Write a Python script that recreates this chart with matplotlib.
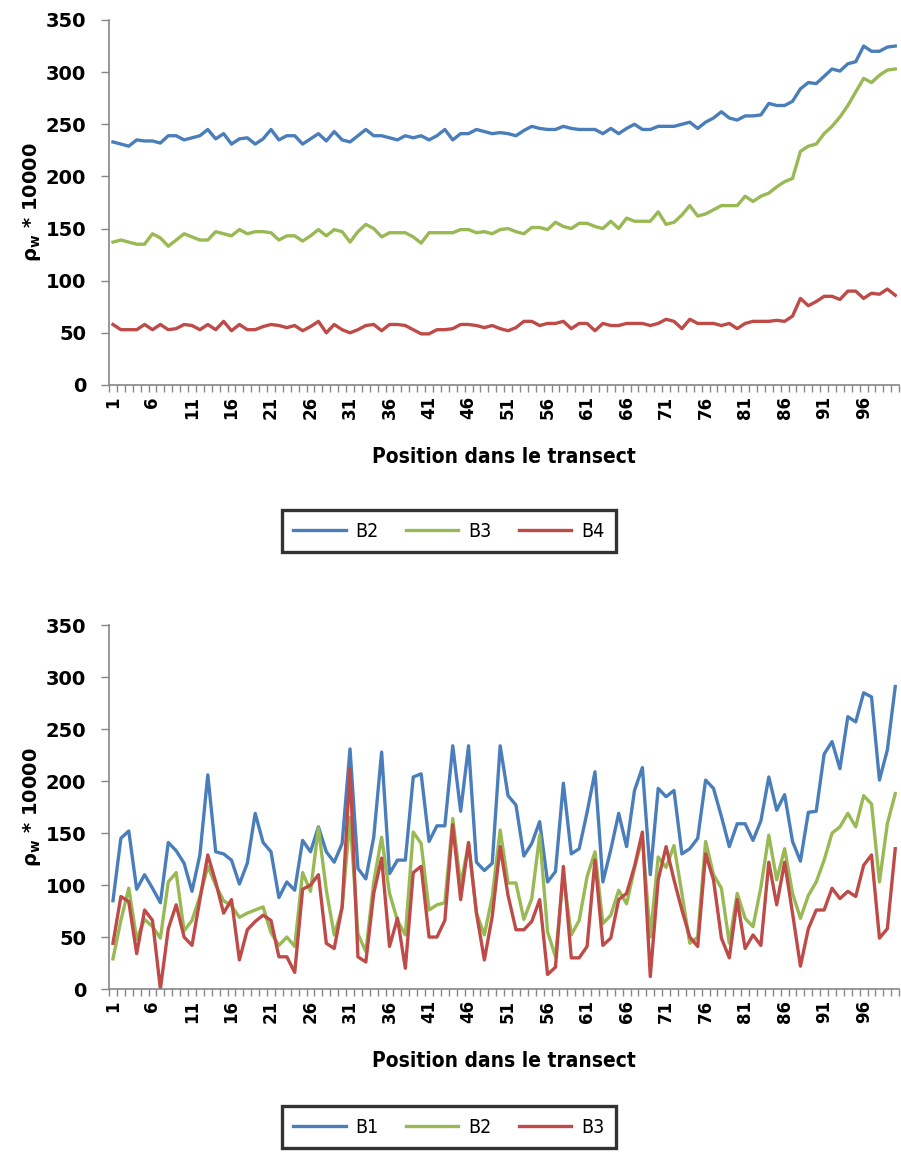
import matplotlib.pyplot as plt
import numpy as np

plt.rcParams['font.family'] = ['DejaVu Sans']
plt.rcParams['mathtext.default'] = 'bf'

positions = np.arange(1, 101)

# graphique du haut
haut_b2 = [233, 231, 229, 235, 234, 234, 232, 239, 239, 235,
           237, 239, 245, 236, 241, 231, 236, 237, 231, 236,
           245, 235, 239, 239, 231, 236, 241, 234, 243, 235,
           233, 239, 245, 239, 239, 237, 235, 239, 237, 239,
           235, 239, 245, 235, 241, 241, 245, 243, 241, 242,
           241, 239, 244, 248, 246, 245, 245, 248, 246, 245,
           245, 245, 241, 246, 241, 246, 250, 245, 245, 248,
           248, 248, 250, 252, 246, 252, 256, 262, 256, 254,
           258, 258, 259, 270, 268, 268, 272, 284, 290, 289,
           296, 303, 301, 308, 310, 325, 320, 320, 324, 325]
haut_b3 = [137, 139, 137, 135, 135, 145, 141, 133, 139, 145,
           142, 139, 139, 147, 145, 143, 149, 145, 147, 147,
           146, 139, 143, 143, 138, 143, 149, 143, 149, 147,
           137, 147, 154, 150, 142, 146, 146, 146, 142, 136,
           146, 146, 146, 146, 149, 149, 146, 147, 145, 149,
           150, 147, 145, 151, 151, 149, 156, 152, 150, 155,
           155, 152, 150, 157, 150, 160, 157, 157, 157, 166,
           154, 156, 163, 172, 162, 164, 168, 172, 172, 172,
           181, 176, 181, 184, 190, 195, 198, 224, 229, 231,
           241, 248, 257, 268, 281, 294, 290, 297, 302, 303]
haut_b4 = [58, 53, 53, 53, 58, 53, 58, 53, 54, 58,
           57, 53, 58, 53, 61, 52, 58, 53, 53, 56,
           58, 57, 55, 57, 52, 56, 61, 50, 58, 53,
           50, 53, 57, 58, 52, 58, 58, 57, 53, 49,
           49, 53, 53, 54, 58, 58, 57, 55, 57, 54,
           52, 55, 61, 61, 57, 59, 59, 61, 54, 59,
           59, 52, 59, 57, 57, 59, 59, 59, 57, 59,
           63, 61, 54, 63, 59, 59, 59, 57, 59, 54,
           59, 61, 61, 61, 62, 61, 66, 83, 76, 80,
           85, 85, 82, 90, 90, 83, 88, 87, 92, 86]

# graphique du bas
bas_b1 = [85, 145, 152, 96, 110, 97, 83, 141, 133, 121,
          94, 129, 206, 132, 130, 124, 101, 121, 169, 141,
          132, 88, 103, 95, 143, 132, 156, 132, 122, 140,
          231, 116, 106, 146, 228, 111, 124, 124, 204, 207,
          142, 157, 157, 234, 171, 234, 122, 114, 121, 234,
          186, 177, 128, 140, 161, 103, 113, 198, 130, 135,
          170, 209, 103, 134, 169, 137, 191, 213, 110, 193,
          185, 191, 130, 135, 145, 201, 193, 166, 137, 159,
          159, 143, 162, 204, 172, 187, 142, 123, 170, 171,
          226, 238, 212, 262, 257, 285, 281, 201, 230, 291]
bas_b2 = [29, 66, 97, 48, 67, 60, 49, 103, 112, 56,
          66, 89, 118, 100, 85, 80, 69, 73, 76, 79,
          54, 42, 50, 41, 112, 94, 155, 95, 52, 78,
          165, 53, 36, 103, 146, 92, 66, 52, 151, 140,
          76, 81, 83, 164, 100, 140, 73, 52, 89, 153,
          102, 102, 67, 87, 148, 55, 31, 110, 52, 66,
          108, 132, 63, 71, 95, 82, 116, 146, 50, 127,
          117, 138, 92, 44, 50, 142, 110, 97, 44, 92,
          68, 60, 98, 148, 105, 135, 92, 68, 90, 103,
          124, 150, 156, 169, 156, 186, 178, 103, 159, 188]
bas_b3 = [44, 89, 84, 34, 76, 66, 0, 58, 81, 50,
          42, 86, 129, 103, 73, 86, 28, 57, 65, 71,
          66, 31, 31, 16, 96, 100, 110, 44, 39, 79,
          212, 31, 26, 92, 126, 41, 68, 20, 112, 118,
          50, 50, 66, 158, 86, 141, 73, 28, 70, 137,
          90, 57, 57, 65, 86, 14, 21, 118, 30, 30,
          41, 124, 42, 49, 86, 92, 118, 151, 12, 105,
          137, 105, 76, 50, 41, 130, 105, 49, 30, 86,
          39, 52, 42, 122, 81, 122, 73, 22, 58, 76,
          76, 97, 87, 94, 89, 119, 129, 49, 58, 135]

bleu = '#4a7ebb'
vert = '#98b954'
rouge = '#be4b48'
gris = '#868686'


def style_axe(ax):
    ax.set_xlim(0.5, 100.5)
    ax.set_ylim(0, 350)
    ax.set_yticks(range(0, 351, 50))
    ax.set_xticks(range(1, 101, 5))
    ax.set_xticks(np.arange(0.5, 101, 1), minor=True)
    ax.tick_params(axis='x', which='major', length=0, pad=8)
    ax.tick_params(axis='x', which='minor', length=5, width=1, color=gris, direction='out')
    ax.tick_params(axis='y', length=5.5, width=1, color=gris, pad=11)
    for lab in ax.get_xticklabels():
        lab.set_rotation(90)
        lab.set_fontweight('bold')
        lab.set_fontsize(12)
        lab.set_va('top')
    for lab in ax.get_yticklabels():
        lab.set_fontweight('bold')
        lab.set_fontsize(14)
    ax.spines['top'].set_visible(False)
    ax.spines['right'].set_visible(False)
    ax.spines['left'].set_color(gris)
    ax.spines['bottom'].set_color(gris)
    ax.spines['left'].set_linewidth(1.2)
    ax.spines['bottom'].set_linewidth(1.2)
    ax.set_xlabel('Position dans le transect', fontsize=15, fontweight='bold',
                  fontstretch='condensed', labelpad=20)
    ax.set_ylabel('ρ$_w$ * 10000', fontsize=14, fontweight='bold', labelpad=2)


fig = plt.figure(figsize=(9.01, 11.55), dpi=100)
ax1 = fig.add_axes([0.121, 0.6667, 0.877, 0.316])
ax2 = fig.add_axes([0.121, 0.1437, 0.877, 0.315])

ax1.plot(positions, haut_b2, color=bleu, lw=2.4, label='B2')
ax1.plot(positions, haut_b3, color=vert, lw=2.4, label='B3')
ax1.plot(positions, haut_b4, color=rouge, lw=2.4, label='B4')
style_axe(ax1)

ax2.plot(positions, bas_b1, color=bleu, lw=2.4, label='B1')
ax2.plot(positions, bas_b2, color=vert, lw=2.4, label='B2')
ax2.plot(positions, bas_b3, color=rouge, lw=2.4, label='B3')
style_axe(ax2)

for ax, y in [(ax1, 0.540), (ax2, 0.024)]:
    leg = fig.legend(handles=ax.get_lines(), loc='center', bbox_to_anchor=(0.498, y),
                     ncol=3, prop={'size': 14, 'stretch': 'condensed'}, frameon=True,
                     fancybox=False, handlelength=2.7, columnspacing=1.4,
                     handletextpad=0.5, borderpad=0.6, borderaxespad=0)
    leg.get_frame().set_edgecolor('black')
    leg.get_frame().set_linewidth(2.4)

fig.savefig('out.png', dpi=100)
